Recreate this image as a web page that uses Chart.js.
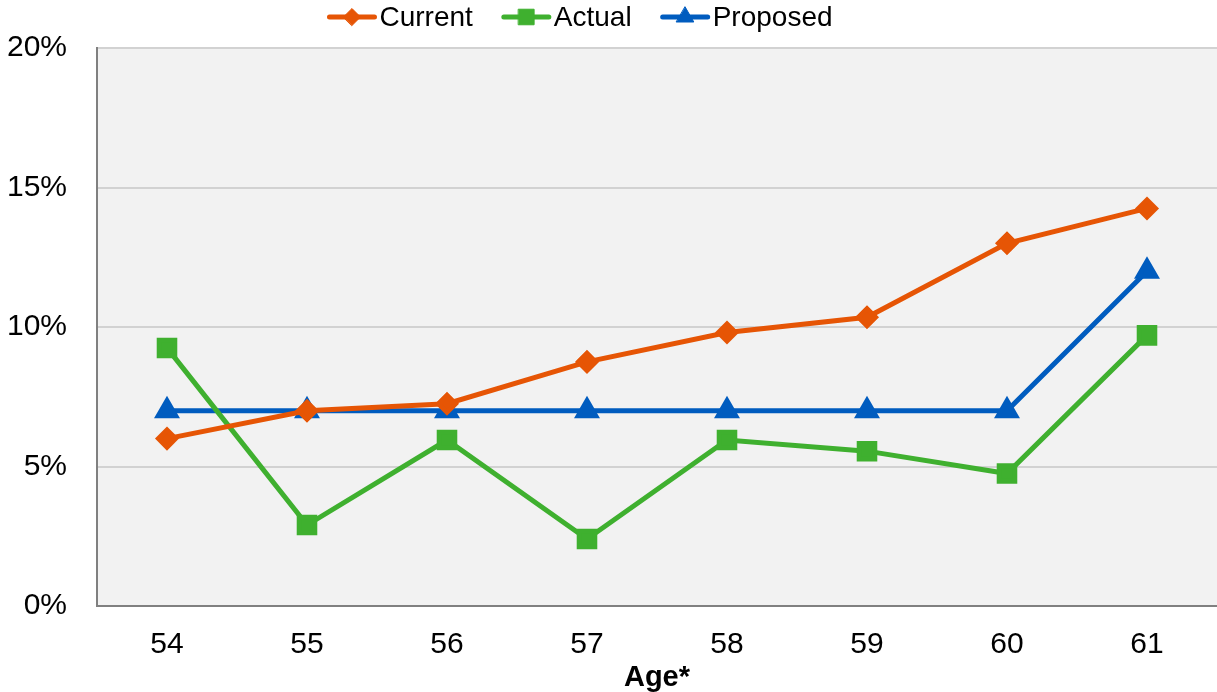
<!DOCTYPE html>
<html>
<head>
<meta charset="utf-8">
<script src="https://cdn.jsdelivr.net/npm/chart.js@4"></script>
<style>
  html, body { margin: 0; padding: 0; background: #fff; overflow: hidden; }
  canvas { display: block; }
</style>
</head>
<body>
<canvas id="ageChart" width="1217" height="692"></canvas>
<script>
// data
var ages = ["54", "55", "56", "57", "58", "59", "60", "61"];
var currentRates = [6.0, 7.0, 7.25, 8.75, 9.8, 10.35, 13.0, 14.25];
var actualRates = [9.25, 2.9, 5.95, 2.4, 5.95, 5.55, 4.75, 9.7];
var proposedRates = [7, 7, 7, 7, 7, 7, 7, 12];
var yTicks = [0, 5, 10, 15, 20];

var FONT = '"Liberation Sans", Arial, sans-serif';

// grey plot background
var plotBackground = {
    id: 'plotBackground',
    beforeDraw: function (chart) {
        var a = chart.chartArea;
        var ctx = chart.ctx;
        ctx.save();
        ctx.fillStyle = '#f2f2f2';
        ctx.fillRect(a.left, a.top, a.right - a.left, a.bottom - a.top);
        ctx.restore();
    }
};

// legend drawn as line + marker, like the original
var lineLegend = {
    id: 'lineLegend',
    afterDraw: function (chart) {
        var ctx = chart.ctx;
        var lineW = 49, gap = 3, space = 29, cy = 17;
        ctx.save();
        ctx.font = '28px ' + FONT;
        var sets = chart.data.datasets;
        var total = 0;
        sets.forEach(function (ds, i) {
            total += lineW + gap + ctx.measureText(ds.label).width + (i < sets.length - 1 ? space : 0);
        });
        var x = 580 - total / 2;
        sets.forEach(function (ds) {
            ctx.strokeStyle = ds.borderColor;
            ctx.lineWidth = 5;
            ctx.lineCap = 'round';
            ctx.beginPath();
            ctx.moveTo(x + 2, cy);
            ctx.lineTo(x + lineW - 2, cy);
            ctx.stroke();
            ctx.fillStyle = ds.pointBackgroundColor;
            ctx.lineWidth = 1;
            Chart.helpers.drawPoint(ctx, {
                pointStyle: ds.pointStyle, radius: ds.pointRadius, borderWidth: 1, rotation: 0
            }, x + lineW / 2, cy);
            ctx.fillStyle = '#000';
            ctx.textAlign = 'left';
            ctx.textBaseline = 'middle';
            ctx.fillText(ds.label, x + lineW + gap, cy + 1);
            x += lineW + gap + ctx.measureText(ds.label).width + space;
        });
        ctx.restore();
    }
};

var ctx = document.getElementById('ageChart').getContext('2d');

var ageChart = new Chart(ctx, {
    type: 'line',
    data: {
        labels: ages,
        datasets: [{
            label: 'Current',
            data: currentRates,
            borderColor: '#e65505',
            backgroundColor: '#e65505',
            pointBackgroundColor: '#e65505',
            pointBorderColor: '#e65505',
            pointStyle: 'rectRot',
            pointRadius: 8.5,
            borderWidth: 5
        }, {
            label: 'Actual',
            data: actualRates,
            borderColor: '#3fb02f',
            backgroundColor: '#3fb02f',
            pointBackgroundColor: '#3fb02f',
            pointBorderColor: '#3fb02f',
            pointStyle: 'rect',
            pointRadius: 11,
            borderWidth: 5
        }, {
            label: 'Proposed',
            data: proposedRates,
            borderColor: '#005cbf',
            backgroundColor: '#005cbf',
            pointBackgroundColor: '#005cbf',
            pointBorderColor: '#005cbf',
            pointStyle: 'triangle',
            pointRadius: 10,
            borderWidth: 5
        }]
    },
    options: {
        responsive: false,
        animation: false,
        layout: { autoPadding: false, padding: { top: 44, left: 0, right: 0, bottom: 0 } },
        scales: {
            x: {
                offset: true,
                grid: { display: false, drawTicks: false },
                border: { color: '#808080', width: 2 },
                ticks: {
                    color: '#000',
                    padding: 21,
                    font: { size: 30, family: FONT }
                },
                title: {
                    display: true,
                    text: 'Age*',
                    color: '#000',
                    padding: { top: 0, bottom: -3 },
                    font: { size: 29, weight: 'bold', family: FONT }
                },
                afterFit: function (scale) {
                    scale.height = 86;
                    scale.paddingLeft = 0;
                    scale.paddingRight = 0;
                }
            },
            y: {
                min: 0,
                max: 20,
                grid: { color: '#d2d2d2', lineWidth: 2, drawTicks: false },
                border: { color: '#808080', width: 2 },
                afterBuildTicks: function (scale) {
                    scale.ticks = yTicks.map(function (v) { return { value: v }; });
                },
                ticks: {
                    color: '#000',
                    padding: 30,
                    font: { size: 30, family: FONT },
                    callback: function (v) { return v + '%'; }
                },
                afterFit: function (scale) { scale.width = 97; }
            }
        },
        plugins: {
            legend: { display: false },
            tooltip: { enabled: false }
        }
    },
    plugins: [plotBackground, lineLegend]
});
</script>
</body>
</html>
